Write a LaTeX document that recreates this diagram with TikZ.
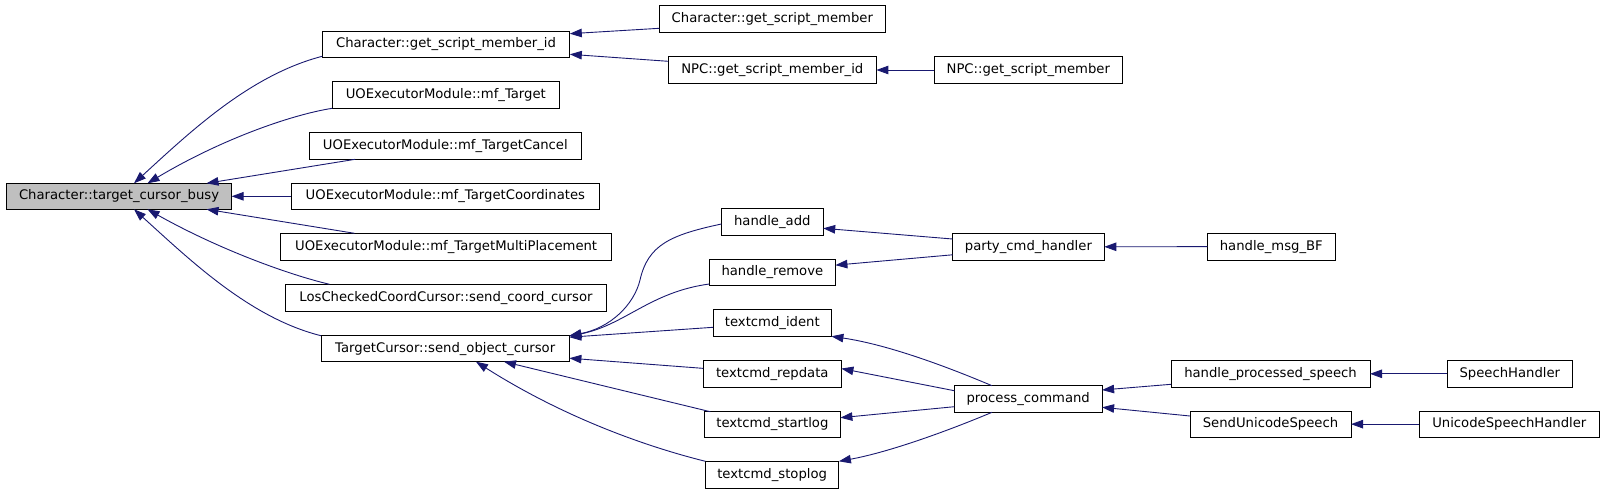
\documentclass[tikz,border=0pt]{standalone}
\usepackage{fontspec}
\setmainfont{DejaVu Sans}
\usetikzlibrary{arrows.meta}
\definecolor{edgeblue}{HTML}{191970}
\definecolor{focusgray}{HTML}{BFBFBF}
\newcommand\bx[7][]{\node[box,#1,minimum width={#5pt-#3pt},minimum height={#6pt-#4pt}] (#2) at ({(#3+#5)/2},{(#4+#6)/2}) {#7};}
\begin{document}
\begin{tikzpicture}[x=1pt,y=-1pt,
  box/.style={draw=black,line width=1pt,fill=white,inner sep=0pt,outer sep=0pt,font=\fontsize{13.2}{15}\selectfont},
  focus/.style={fill=focusgray},
  edge/.style={draw=edgeblue,line width=0.9pt,-{Triangle[length=12pt,width=8.5pt]}}]
\useasboundingbox (0,0) rectangle (1605,493);
% nodes
\bx[focus]{tcb}{6.5}{183.3}{231.6}{209.3}{Character::target\_cursor\_busy}
\bx{gsmi}{322.2}{31.7}{569.8}{57.3}{Character::get\_script\_member\_id}
\bx{mft}{332.2}{81.3}{559.4}{108.3}{UOExecutorModule::mf\_Target}
\bx{mftc}{309.2}{132.3}{581.5}{159.3}{UOExecutorModule::mf\_TargetCancel}
\bx{mftco}{291.2}{183.3}{599.5}{209.3}{UOExecutorModule::mf\_TargetCoordinates}
\bx{mftmp}{280.5}{233.3}{611.8}{260.3}{UOExecutorModule::mf\_TargetMultiPlacement}
\bx{lccc}{285.5}{284.3}{606.4}{311}{LosCheckedCoordCursor::send\_coord\_cursor}
\bx{tcsoc}{321}{335.7}{569.4}{361.7}{TargetCursor::send\_object\_cursor}
\bx{cgsm}{659.3}{5.7}{885.4}{32.3}{Character::get\_script\_member}
\bx{npcid}{668.2}{56.7}{876.4}{83.3}{NPC::get\_script\_member\_id}
\bx{npcm}{934.3}{56.7}{1122.3}{83.3}{NPC::get\_script\_member}
\bx{hadd}{721.4}{208.7}{823.2}{235.3}{handle\_add}
\bx{hrem}{709.3}{259.3}{835.4}{285}{handle\_remove}
\bx{tid}{713.2}{309.7}{831.4}{336.3}{textcmd\_ident}
\bx{trep}{703.2}{360.7}{841.4}{387}{textcmd\_repdata}
\bx{tstart}{704.3}{411.7}{840.4}{437.3}{textcmd\_startlog}
\bx{tstop}{705.4}{461.3}{838.9}{488}{textcmd\_stoplog}
\bx{party}{952.5}{233.3}{1104.3}{260.3}{party\_cmd\_handler}
\bx{hmbf}{1207.3}{233.3}{1335.3}{260}{handle\_msg\_BF}
\bx{pc}{954.3}{385.7}{1102.1}{412.3}{process\_command}
\bx{hps}{1171}{360.3}{1370}{387.3}{handle\_processed\_speech}
\bx{sh}{1447.3}{360.3}{1572.3}{387.3}{SpeechHandler}
\bx{sus}{1190}{411.3}{1351}{437}{SendUnicodeSpeech}
\bx{ush}{1419.3}{411.3}{1599.3}{437}{UnicodeSpeechHandler}
% edges into target_cursor_busy
\draw[edge] ([shift={(0,-1)}]gsmi.south west) .. controls (250,75) and (190,132) .. ([shift={(127.5,0)}]tcb.north west);
\draw[edge] (mft.south west) .. controls (290,115) and (220,140) .. ([shift={(141,0)}]tcb.north west);
\draw[edge] ([shift={(46,0)}]mftc.south west) -- ([shift={(200,0)}]tcb.north west);
\draw[edge] (mftco.west) -- (tcb.east);
\draw[edge] ([shift={(74,0)}]mftmp.north west) -- ([shift={(200,0)}]tcb.south west);
\draw[edge] ([shift={(44,0)}]lccc.north west) .. controls (290,275) and (220,250) .. ([shift={(141,0)}]tcb.south west);
\draw[edge] (tcsoc.north west) .. controls (250,318) and (190,260) .. ([shift={(127.5,0)}]tcb.south west);
% edges into get_script_member_id
\draw[edge] ([shift={(0,-4)}]cgsm.south west) -- ([shift={(0,2)}]gsmi.north east);
\draw[edge] ([shift={(0,4.6)}]npcid.north west) -- ([shift={(0,-3)}]gsmi.south east);
\draw[edge] (npcm.west) -- (npcid.east);
% edges into send_object_cursor
\draw[edge] ([shift={(0,2)}]hadd.west) .. controls (670,235) and (648,245) .. (640,280) .. controls (634,305) and (610,328) .. (tcsoc.north east);
\draw[edge] ([shift={(0,-1)}]hrem.south west) .. controls (650,292) and (625,325) .. ([shift={(0,0.5)}]tcsoc.north east);
\draw[edge] ([shift={(0,-9)}]tid.south west) -- ([shift={(0,1.5)}]tcsoc.north east);
\draw[edge] ([shift={(0,-5.5)}]trep.west) -- ([shift={(0,-3.5)}]tcsoc.south east);
\draw[edge] ([shift={(6,0)}]tstart.north west) -- ([shift={(183,0)}]tcsoc.south west);
\draw[edge] (tstop.north west) .. controls (640,445) and (560,415) .. ([shift={(155,0)}]tcsoc.south west);
% party_cmd_handler
\draw[edge] ([shift={(0,-7.8)}]party.west) -- ([shift={(0,6.3)}]hadd.east);
\draw[edge] ([shift={(0,8)}]party.west) -- ([shift={(0,-7)}]hrem.east);
\draw[edge] (hmbf.west) -- (party.east);
% process_command
\draw[edge] ([shift={(37.7,0)}]pc.north west) .. controls (950,368) and (890,345) .. (tid.south east);
\draw[edge] ([shift={(0,-8.3)}]pc.west) -- ([shift={(0,-5.3)}]trep.east);
\draw[edge] ([shift={(0,7.7)}]pc.west) -- ([shift={(0,-6.8)}]tstart.east);
\draw[edge] ([shift={(37.7,0)}]pc.south west) .. controls (950,430) and (890,452) .. (tstop.north east);
\draw[edge] ([shift={(0,10.5)}]hps.west) -- ([shift={(0,-9)}]pc.east);
\draw[edge] ([shift={(0,-8.15)}]sus.west) -- ([shift={(0,8.3)}]pc.east);
\draw[edge] (sh.west) -- (hps.east);
\draw[edge] (ush.west) -- (sus.east);
\end{tikzpicture}
\end{document}
